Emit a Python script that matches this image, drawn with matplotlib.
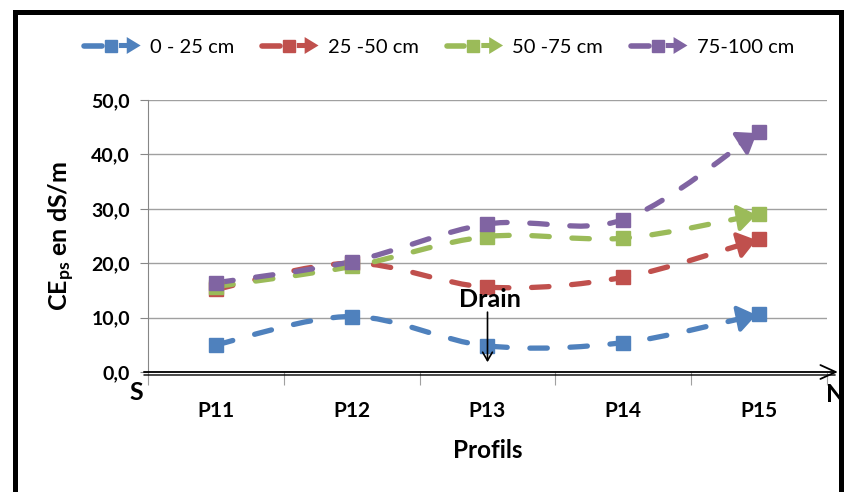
import numpy as np
import matplotlib
matplotlib.use("Agg")
import matplotlib.pyplot as plt
from matplotlib.path import Path
from matplotlib.patches import PathPatch, Polygon, Rectangle
from matplotlib.lines import Line2D
from matplotlib.legend_handler import HandlerBase

# data
profils = ["P11", "P12", "P13", "P14", "P15"]
depths = ["0 - 25 cm", "25 -50 cm", "50 -75 cm", "75-100 cm"]
ce_0_25 = [5.0, 10.2, 4.8, 5.4, 10.6]
ce_25_50 = [15.2, 20.0, 15.6, 17.4, 24.4]
ce_50_75 = [15.7, 19.4, 24.9, 24.6, 29.0]
ce_75_100 = [16.4, 20.3, 27.2, 28.0, 44.2]
colors = ["#4F81BD", "#C0504D", "#9BBB59", "#8064A2"]

plt.rcParams["font.family"] = ["Lato", "DejaVu Sans"]
plt.rcParams["mathtext.default"] = "regular"

W, H = 845, 492
fig = plt.figure(figsize=(W / 100, H / 100), dpi=100)
ax = fig.add_axes([148 / W, 1 - 372 / H, 679 / W, 272 / H])
ax.set_xlim(-0.5, len(profils) - 0.5)
ax.set_ylim(0, 50)


def smooth_path(xs, ys):
    # excel-like smoothed line: cubic bezier through every point
    pts = np.column_stack([xs, ys])
    n = len(pts)
    verts = [pts[0]]
    codes = [Path.MOVETO]
    for i in range(n - 1):
        p0 = pts[max(i - 1, 0)]
        p1 = pts[i]
        p2 = pts[i + 1]
        p3 = pts[min(i + 2, n - 1)]
        verts += [p1 + (p2 - p0) / 6, p2 - (p3 - p1) / 6, p2]
        codes += [Path.CURVE4] * 3
    return Path(verts, codes)


xs = np.arange(len(profils))
series = [ce_0_25, ce_25_50, ce_50_75, ce_75_100]
for vals, c in zip(series, colors):
    path = smooth_path(xs, vals)
    ax.add_patch(PathPatch(path, fill=False, edgecolor=c, lw=3.8,
                           linestyle=(0, (3.3, 4.3)), capstyle="round", zorder=3))
    # arrow head at the end of the line
    end = ax.transData.transform((xs[-1], vals[-1]))
    prev = ax.transData.transform((xs[-2], vals[-2]))
    d = (end - prev) / np.hypot(*(end - prev))
    ax.annotate("", xy=(xs[-1], vals[-1]), xytext=tuple(-d * 22),
                textcoords="offset pixels",
                arrowprops=dict(arrowstyle="-|>,head_length=1.1,head_width=0.8",
                                color=c, lw=3, shrinkA=0, shrinkB=2), zorder=4)
    ax.plot(xs, vals, linestyle="none", marker="s", ms=9.5, color=c, zorder=5)

# grid and axes styling
ax.set_yticks(np.arange(0, 51, 10))
ax.set_yticklabels([f"{v:.1f}".replace(".", ",") for v in range(0, 51, 10)],
                   fontweight="bold", fontsize=14)
ax.yaxis.grid(True, color="#A0A0A0", lw=1)
ax.set_axisbelow(True)
ax.tick_params(axis="y", length=6, color="#868686", pad=7)
for s in ["top", "right", "bottom"]:
    ax.spines[s].set_visible(False)
ax.spines["left"].set_color("#868686")

ax.set_xticks(np.arange(-0.5, len(profils), 1.0))
ax.set_xticklabels([])
ax.set_xticks(xs, minor=True)
ax.set_xticklabels(profils, minor=True, fontweight="bold", fontsize=15)
ax.tick_params(axis="x", which="major", length=9, color="#A0A0A0", direction="out")
ax.tick_params(axis="x", which="minor", length=0, pad=21)

# horizontal axis drawn as a double line ending in an arrow
ax.annotate("", xy=(1.016, 0), xytext=(-0.006, 0), xycoords="axes fraction",
            arrowprops=dict(arrowstyle="->,head_length=1.1,head_width=0.5",
                            color="black", lw=1.3, shrinkA=0, shrinkB=0),
            annotation_clip=False, zorder=6)
ax.annotate("", xy=(1.012, -0.011), xytext=(-0.006, -0.011), xycoords="axes fraction",
            arrowprops=dict(arrowstyle="-", color="black", lw=1.0,
                            shrinkA=0, shrinkB=0),
            annotation_clip=False, zorder=6)

ax.set_ylabel("CE$_{ps}$ en dS/m", fontsize=18, fontweight="bold", labelpad=10)
fig.text(488 / W, 1 - 450 / H, "Profils", fontsize=17.5, fontweight="bold",
         ha="center", va="center")
fig.text(136 / W, 1 - 393 / H, "S", fontsize=18, fontweight="bold",
         ha="center", va="center")
fig.text(836 / W, 1 - 395 / H, "N", fontsize=18, fontweight="bold",
         ha="center", va="center")

# drain marker
ax.annotate("", xy=(2.0, 1.8), xytext=(2.0, 11.0),
            arrowprops=dict(arrowstyle="->,head_length=0.6,head_width=0.35",
                            color="black", lw=1.2, shrinkA=0, shrinkB=0), zorder=7)
ax.text(2.02, 13.4, "Drain", fontsize=18, fontweight="bold", ha="center",
        va="center", zorder=7)


class ArrowLineHandler(HandlerBase):
    def create_artists(self, legend, orig_handle, xdescent, ydescent,
                       width, height, fontsize, trans):
        c = orig_handle.get_color()
        y = height / 2 - ydescent
        x0 = -xdescent
        line = Line2D([x0 + 3, x0 + width * 0.36], [y, y], color=c, lw=4,
                      solid_capstyle="round", transform=trans)
        sq = Line2D([x0 + width * 0.51], [y], marker="s", ms=8, color=c,
                    linestyle="none", transform=trans)
        h = height * 0.6
        head = Polygon([[x0 + width * 0.64, y - h * 0.3], [x0 + width * 0.77, y - h * 0.3],
                        [x0 + width * 0.77, y - h], [x0 + width, y],
                        [x0 + width * 0.77, y + h], [x0 + width * 0.77, y + h * 0.3],
                        [x0 + width * 0.64, y + h * 0.3]],
                       closed=True, facecolor=c, edgecolor="none", transform=trans)
        return [line, sq, head]


handles = [Line2D([], [], color=c) for c in colors]
fig.legend(handles, depths, loc="center", bbox_to_anchor=(437 / W, 1 - 47 / H),
           ncol=4, frameon=False, fontsize=14.5, handlelength=3.0,
           handletextpad=0.45, columnspacing=1.2,
           handler_map={Line2D: ArrowLineHandler()})

# frame around the whole chart
fig.patches.append(Rectangle((15 / W, -0.1), 826 / W, 1.1 - 12 / H,
                             transform=fig.transFigure, fill=False,
                             edgecolor="black", lw=3.6))

fig.savefig("out.png", dpi=100)
